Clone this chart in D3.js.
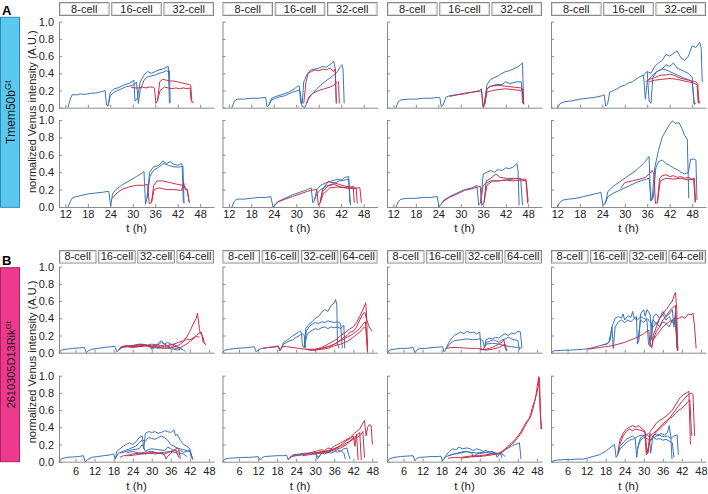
<!DOCTYPE html>
<html><head><meta charset="utf-8">
<script src="https://cdn.jsdelivr.net/npm/d3@7"></script>
<style>body{margin:0;background:#fff}svg{display:block}</style>
</head><body><svg id="c" width="708" height="494"></svg>
<script>
// ---------- labels / ticks ----------
const stagesA = ["8-cell","16-cell","32-cell"];
const stagesB = ["8-cell","16-cell","32-cell","64-cell"];
const xTicksA = [12,18,24,30,36,42,48];
const xTicksB = [6,12,18,24,30,36,42,48];
const yTicks = [0,0.2,0.4,0.6,0.8,1.0];
const yTickLabels = ["0.0","0.2","0.4","0.6","0.8","1.0"];
const geneA = "Tmem50b", geneB = "2610305D13Rik", geneSup = "Gt";
const yLabel = "normalized Venus intensity (A.U.)";
const xLabel = "t (h)";

// ---------- traces: [t (h), normalized intensity] ----------
const A_r1c1_blue = [
 [[12.7,0],[13.3,0.1],[13.8,0.15],[15,0.15],[16,0.16],[17,0.155],[18,0.16],[19,0.17],[20,0.17],[21,0.18],[22,0.19],[22.6,0.2],[23,0.03],[23.4,0.02],[24,0.18],[25,0.22],[26,0.23],[27,0.25],[28,0.27],[29,0.28],[30.3,0.32],[30.6,0.08],[31.2,0.1],[32,0.3],[33,0.38],[34,0.42],[35,0.4],[36,0.42],[37,0.44],[38,0.45],[39,0.47],[39.5,0.48],[39.8,0.05]],
 [[23.4,0.02],[24,0.14],[25,0.18],[26,0.2],[27,0.22],[28,0.24],[29,0.25],[30.5,0.27],[31,0.3],[31.5,0.05],[32,0.2],[33,0.32],[34,0.36],[35,0.37],[36,0.38],[37,0.4],[38,0.41],[39,0.43],[39.5,0.42],[39.8,0.43],[40,0.06]]
];
const A_r1c1_red = [
 [[29.5,0.24],[30.5,0.23],[31.5,0.23],[32.5,0.24],[33.5,0.23],[34.5,0.24],[35.5,0.24],[35.8,0.22],[36.2,0.05],[36.6,0.08],[37.2,0.3],[38,0.33],[39,0.32],[40,0.31],[41,0.31],[42,0.3],[43,0.29],[44,0.28],[45,0.27],[45.5,0.26],[45.8,0.06],[46.3,0.07]],
 [[36.6,0.08],[37.3,0.2],[38.5,0.24],[39.5,0.23],[40.5,0.22],[41.5,0.23],[42.5,0.22],[43.5,0.23],[44.5,0.22],[45.3,0.23],[45.6,0.08]]
];
const A_r1c2_blue = [
 [[12.8,0],[13.5,0.08],[14.2,0.1],[16,0.1],[18,0.11],[20,0.11],[21.8,0.12],[22.2,0.01],[22.7,0.03],[23.4,0.11],[24.5,0.13],[26,0.15],[28,0.18],[29.5,0.22],[30.4,0.25],[30.8,0.25],[31.2,0.05],[31.6,0.05],[32,0.3],[33,0.4],[34,0.44],[35,0.45],[36,0.46],[37,0.48],[38,0.47],[39,0.5],[40,0.54],[40.4,0.46],[40.7,0.05]],
 [[22.7,0.03],[23.4,0.09],[25,0.12],[27,0.14],[29,0.18],[30.5,0.2],[31,0.2],[31.5,0.02],[32.3,0],[33,0.08],[34,0.15],[35.5,0.22],[37,0.28],[38.5,0.33],[40,0.38],[41,0.42],[41.8,0.48],[42.2,0.5],[42.5,0.45],[42.8,0.05]]
];
const A_r1c2_red = [
 [[32,0.05],[32.6,0.3],[33.2,0.4],[34,0.42],[35,0.44],[36,0.43],[37,0.45],[38,0.44],[39,0.46],[40,0.42],[40.4,0.45],[40.7,0.05]],
 [[32.8,0.05],[33.3,0.12],[34.5,0.17],[36,0.2],[37.5,0.22],[39,0.24],[40,0.26],[41,0.3],[41.3,0.3],[41.5,0.05]]
];
const A_r1c3_blue = [
 [[12.7,0],[13.3,0.07],[14,0.09],[16,0.1],[18,0.1],[20,0.11],[22,0.11],[24,0.12],[24.4,0.12],[24.8,0.01],[25.3,0.03],[26,0.12],[27,0.14],[29,0.15],[31,0.17],[33,0.18],[35,0.2],[35.5,0.22],[35.9,0.02],[36.3,0.05],[37,0.27],[38,0.33],[39,0.35],[40,0.37],[41,0.4],[42,0.42],[43,0.43],[44,0.45],[45,0.47],[46,0.5],[46.5,0.52],[46.8,0.05]],
 [[36.3,0.05],[37,0.22],[38,0.25],[39.5,0.27],[41,0.27],[42,0.3],[43,0.28],[44,0.29],[45,0.3],[46.2,0.3],[46.5,0.05]]
];
const A_r1c3_red = [
 [[27,0.13],[29,0.15],[31,0.16],[33,0.18],[35,0.19],[35.6,0.2],[36,0],[36.4,0.04],[37,0.22],[38,0.25],[40,0.26],[42,0.25],[44,0.24],[46,0.23],[46.5,0.22],[46.8,0.04]],
 [[36.4,0.04],[37,0.18],[38.5,0.2],[40,0.21],[42,0.22],[44,0.21],[46,0.2],[46.4,0.22],[46.8,0.04]]
];
const A_r1c4_blue = [
 [[12,0],[12.8,0.05],[14,0.07],[16,0.08],[18,0.1],[20,0.11],[22,0.12],[24,0.14],[24.5,0.15],[24.9,0.02],[25.4,0.04],[26,0.18],[27,0.2],[28,0.22],[29,0.25],[30,0.26],[31,0.29],[32,0.3],[33,0.33],[34,0.36],[35,0.38],[36,0.42],[37,0.4],[38,0.48],[39,0.52],[40,0.55],[41,0.62],[42,0.6],[43,0.63],[44,0.66],[45,0.58],[46,0.55],[47,0.6],[48,0.72],[49,0.7],[50,0.76],[50.4,0.7],[50.7,0.3]],
 [[36,0.42],[36.5,0.08],[37,0.05],[37.5,0.35],[38.5,0.42],[40,0.45],[41,0.5],[42,0.48],[43,0.52],[44,0.46],[45,0.44],[46,0.42],[47,0.4],[48,0.35],[48.5,0.04],[49,0.05]],
 [[35,0.38],[35.5,0.1],[36,0.3],[37,0.36],[38,0.4],[39,0.43],[40,0.45],[41,0.44],[42,0.42],[43,0.4],[44,0.38],[45,0.36],[46,0.34],[47,0.33],[48,0.3],[48.6,0.04]]
];
const A_r1c4_red = [
 [[35.5,0.3],[36.5,0.33],[38,0.35],[39,0.37],[40,0.38],[41,0.38],[42,0.39],[43,0.38],[44,0.36],[45,0.34],[46,0.33],[47,0.32],[48,0.31],[49,0.3],[49.5,0.28],[49.8,0.05],[50,0.08]],
 [[36.5,0.3],[38,0.32],[40,0.33],[42,0.34],[44,0.33],[46,0.31],[48,0.29],[49.3,0.27],[49.6,0.06]]
];
const A_r2c1_blue = [
 [[12.7,0],[13.3,0.06],[14,0.11],[16,0.13],[18,0.15],[20,0.16],[22,0.17],[23.6,0.18],[24.1,0.01],[24.6,0.15],[25.5,0.2],[27,0.25],[29,0.3],[31,0.35],[32.5,0.39],[33,0.41],[33.4,0.03],[33.8,0.1],[34.5,0.4],[35.5,0.46],[37,0.48],[38,0.53],[39,0.5],[40,0.52],[41,0.49],[42,0.48],[43,0.5],[43.2,0.48],[43.5,0.05]],
 [[33.8,0.1],[34.6,0.35],[35.5,0.42],[37,0.46],[38.2,0.5],[39.5,0.48],[41,0.46],[42.5,0.46],[43.4,0.47],[43.7,0.04]]
];
const A_r2c1_red = [
 [[24.6,0.1],[25.5,0.15],[27,0.2],[29,0.23],[31,0.25],[33,0.25],[34,0.26],[34.4,0.04],[35,0.05],[35.6,0.25],[36.5,0.3],[38,0.3],[40,0.28],[42,0.26],[43.5,0.25],[44.5,0.2],[45,0.08],[45.2,0.05]],
 [[35,0.05],[35.7,0.2],[37,0.22],[39,0.2],[41,0.2],[43,0.19],[43.6,0.28],[44,0.2],[44.6,0.2],[45,0.06]]
];
const A_r2c2_blue = [
 [[12.8,0],[13.4,0.06],[14,0.09],[16,0.09],[18,0.1],[20,0.11],[22,0.11],[23.2,0.12],[23.8,0],[24.3,0.02],[25,0.06],[27,0.1],[29,0.14],[31,0.17],[33,0.2],[34,0.22],[34.4,0.05],[34.8,0.07],[35.5,0.2],[36.5,0.25],[38,0.28],[39.5,0.3],[41,0.32],[42,0.31],[43,0.34],[44,0.35],[44.3,0.05]],
 [[34.8,0.07],[35.5,0.15],[36.5,0.2],[38,0.24],[40,0.27],[41.5,0.3],[43,0.31],[44,0.32],[44.5,0.02]]
];
const A_r2c2_red = [
 [[24.3,0.02],[25.2,0.06],[27,0.09],[29,0.12],[31,0.15],[33,0.18],[35,0.2],[35.5,0.2],[35.9,0.02],[36.4,0.05],[37,0.2],[38.5,0.29],[40,0.28],[41.5,0.26],[43,0.24],[44.5,0.23],[45.2,0.24],[45.5,0.05]],
 [[36.4,0.05],[37,0.18],[38.5,0.24],[40,0.26],[42,0.23],[44,0.22],[45.5,0.22],[46,0.22],[46.3,0.04]],
 [[36.4,0.05],[37.2,0.15],[39,0.22],[41,0.23],[43,0.22],[45,0.21],[46.5,0.22],[47,0.22],[47.4,0.05]]
];
const A_r2c3_blue = [
 [[12.7,0],[13.3,0.06],[14,0.09],[16,0.1],[18,0.1],[20,0.11],[22,0.11],[23.7,0.12],[24.2,0],[24.7,0.03],[25.5,0.08],[27,0.12],[29,0.16],[31,0.2],[33,0.22],[34.3,0.25],[34.8,0.02],[35.3,0.05],[36,0.38],[37,0.4],[38,0.42],[39,0.4],[40,0.43],[41,0.42],[42,0.45],[43,0.44],[44,0.46],[45,0.5],[45.3,0.42],[45.6,0.02]],
 [[35.3,0.05],[36,0.25],[37,0.28],[38,0.3],[40,0.3],[42,0.31],[44,0.32],[45,0.33],[46,0.33],[46.5,0.02]]
];
const A_r2c3_red = [
 [[24.7,0.03],[25.5,0.07],[27,0.11],[29,0.15],[31,0.19],[33,0.21],[34.5,0.23],[35.2,0.24],[35.6,0.02],[36.2,0.05],[36.8,0.3],[38,0.33],[39.4,0.38],[40.5,0.34],[42,0.33],[44,0.33],[46,0.32],[47.4,0.32],[47.9,0.04]],
 [[36.2,0.05],[37,0.25],[38.5,0.3],[40,0.3],[42,0.31],[44,0.3],[46,0.31],[47.5,0.3],[48,0.06]]
];
const A_r2c4_blue = [
 [[12,0],[12.6,0.05],[13.5,0.08],[15,0.09],[17,0.1],[19,0.12],[21,0.14],[23,0.16],[23.6,0.17],[24.2,0.02],[24.8,0.04],[25.5,0.18],[27,0.24],[29,0.3],[31,0.36],[33,0.42],[34,0.46],[35,0.5],[36,0.55],[36.5,0.58],[36.9,0.07],[37.3,0.08],[38,0.45],[39,0.65],[40,0.8],[41,0.88],[42,0.95],[42.7,0.99],[43.5,0.96],[44.5,0.97],[45.3,0.9],[46,0.82],[46.7,0.78],[47.1,0.1]],
 [[24.8,0.04],[25.5,0.12],[27,0.16],[29,0.2],[31,0.24],[33,0.28],[35,0.31],[36.5,0.33],[37.1,0.08],[37.6,0.1],[38.3,0.45],[39,0.52],[40,0.54],[41,0.5],[42,0.48],[43,0.45],[44,0.43],[45,0.4],[46,0.38],[47,0.4],[47.6,0.55],[48.5,0.55],[49,0.54],[49.3,0.08]]
];
const A_r2c4_red = [
 [[29,0.22],[30,0.28],[32,0.3],[34,0.32],[35.5,0.34],[36.5,0.38],[37.3,0.42],[37.8,0.38],[38.2,0.04],[38.7,0.05],[39.3,0.33],[40,0.36],[41,0.37],[42,0.35],[43,0.36],[44,0.34],[45,0.35],[46,0.33],[47,0.34],[48,0.32],[48.6,0.33],[48.9,0.06]],
 [[38.7,0.05],[39.5,0.3],[41,0.33],[43,0.32],[45,0.33],[47,0.31],[48.4,0.32],[48.8,0.05]]
];
const B_r1c1_blue = [
 [[0.8,0],[1.5,0.03],[3,0.04],[5,0.05],[7,0.055],[8.8,0.06],[9.4,0],[10,0.02],[11,0.04],[13,0.05],[15,0.06],[17,0.07],[18.4,0.075],[19,0.01],[19.6,0.03],[20.5,0.07],[22,0.08],[24,0.07],[26,0.09],[28,0.08],[30,0.1],[32,0.09],[33,0.12],[34,0.1],[35,0.08],[36,0.09],[37,0.1],[38,0.07],[39,0.05],[40,0.03],[40.6,0.01]],
 [[19.6,0.03],[20.5,0.06],[22,0.07],[24,0.08],[26,0.07],[28,0.08],[29.5,0.09],[30,0.04],[31,0.06],[32,0.11],[33,0.14],[34,0.1],[35,0.12],[36,0.1],[37,0.08],[38.5,0.06],[39.5,0.04]],
 [[19.6,0.03],[21,0.07],[23,0.08],[25,0.09],[27,0.1],[29,0.08],[30.5,0.07],[32,0.05],[33,0.06],[35,0.05],[37,0.04],[38,0.03],[39,0.04]]
];
const B_r1c1_red = [
 [[19.6,0.03],[20.5,0.07],[22,0.08],[24,0.07],[26,0.08],[28,0.09],[30,0.08],[32,0.09],[34,0.07],[35.5,0.09],[37,0.1],[38.5,0.12],[40,0.14],[41,0.18],[42,0.25],[43,0.33],[44,0.4],[44.4,0.46],[45,0.28],[45.3,0.22],[46,0.2],[46.5,0.12],[47,0.09]],
 [[20,0.06],[22,0.07],[24,0.08],[26,0.1],[28,0.09],[30,0.07],[32,0.06],[34,0.05],[35,0.06],[37,0.07],[38,0.08],[39,0.1],[40,0.13],[41,0.16],[42,0.15],[43,0.17],[44,0.2],[45,0.23],[45.6,0.24],[46.2,0.12],[46.8,0.1]],
 [[22,0.07],[24,0.06],[26,0.07],[28,0.08],[30,0.06],[32,0.07],[34,0.09],[36,0.06],[38,0.05],[39,0.06],[40,0.08],[41,0.1],[42,0.13],[43,0.16],[44,0.19],[45,0.18]]
];
const B_r1c2_blue = [
 [[0.8,0],[1.5,0.03],[3,0.04],[5,0.05],[7,0.055],[9,0.06],[10.8,0.07],[11.4,0.01],[12,0.03],[13,0.05],[15,0.06],[17,0.07],[18.3,0.08],[18.8,0.02],[19.4,0.05],[20,0.12],[21,0.14],[22,0.17],[23,0.2],[24,0.22],[25,0.25],[25.6,0.24],[26,0.08],[26.5,0.06],[27,0.28],[28,0.33],[29,0.36],[30,0.4],[31,0.42],[32,0.47],[33,0.5],[34,0.48],[35,0.55],[36,0.58],[36.4,0.62],[36.8,0.55],[37,0.1],[37.5,0.05]],
 [[26.5,0.06],[27.2,0.25],[28,0.3],[29,0.33],[30,0.35],[31,0.34],[32,0.36],[33,0.35],[34,0.37],[35,0.36],[36,0.35],[37,0.36],[38,0.34],[38.5,0.05]],
 [[26.5,0.06],[27.5,0.22],[29,0.26],[30,0.28],[31,0.27],[32,0.29],[33,0.3],[34,0.28],[35,0.3],[36,0.29],[37,0.3],[38,0.28],[39,0.32],[39.3,0.05]],
 [[19.4,0.05],[20,0.1],[21,0.12],[22,0.14],[23,0.15],[24,0.18],[25,0.2],[26,0.22],[26.5,0.2],[27,0.05]]
];
const B_r1c2_red = [
 [[13.5,0.05],[15,0.06],[17,0.065],[18.5,0.07],[19,0.03],[19.5,0.07],[21,0.07],[23,0.06],[25,0.05],[27,0.04],[29,0.04],[30,0.04],[31,0.05],[32,0.06],[33,0.08],[34,0.1],[35,0.12],[36,0.14],[37,0.16],[38,0.2],[39,0.22],[40,0.25],[41,0.28],[42,0.3],[43,0.35],[44,0.42],[45,0.5],[45.9,0.58],[46.2,0.4],[46.5,0]],
 [[27,0.04],[29,0.03],[31,0.04],[33,0.06],[35,0.08],[37,0.12],[39,0.18],[40,0.2],[41,0.24],[42,0.25],[43,0.3],[44,0.38],[45,0.45],[45.6,0.47],[46.2,0.38],[47,0.3],[47.8,0.25]],
 [[30,0.04],[32,0.05],[34,0.07],[36,0.1],[38,0.14],[40,0.18],[42,0.22],[44,0.28],[45,0.33],[45.8,0.36],[46.3,0.1]],
 [[28,0.03],[30,0.03],[32,0.04],[34,0.05],[36,0.08],[38,0.1],[40,0.13],[42,0.18],[44,0.24],[45.5,0.3],[46,0.28],[46.4,0.02]]
];
const B_r1c3_blue = [
 [[1,0],[1.6,0.03],[3,0.04],[5,0.05],[7,0.05],[9,0.06],[9.6,0],[10.2,0.03],[11,0.05],[13,0.05],[15,0.06],[17,0.065],[18.3,0.07],[18.8,0.01],[19.3,0.04],[20,0.1],[21,0.16],[22,0.2],[23,0.22],[24,0.24],[25,0.22],[26,0.25],[27,0.23],[28,0.24],[29,0.22],[30,0.24],[30.4,0.05],[31,0.03]],
 [[19.3,0.04],[20.5,0.1],[22,0.14],[24,0.15],[26,0.16],[28,0.15],[30,0.16],[31,0.14],[31.5,0.06],[32,0.15],[33,0.17],[34,0.16],[35,0.18],[36,0.17],[37,0.2],[38,0.22],[39,0.2],[40,0.23],[41,0.22],[42,0.25],[42.8,0.24],[43.3,0.05]],
 [[31.5,0.06],[32,0.12],[33,0.13],[34,0.15],[35,0.14],[36,0.12],[37,0.15],[38,0.16],[39,0.18],[40,0.16],[41,0.15],[42,0.14],[42.5,0.03]],
 [[31,0.03],[32,0.1],[34,0.11],[36,0.1],[38,0.08],[40,0.07],[42,0.06],[43,0.05]]
];
const B_r1c3_red = [
 [[19.3,0.05],[21,0.06],[23,0.06],[25,0.055],[27,0.05],[29,0.05],[31,0.04],[32,0.04],[33,0.05],[34,0.06],[35,0.08],[36,0.1],[37,0.12],[37.6,0.15],[38,0.06],[38.5,0.02]],
 [[30,0.04],[32,0.03],[34,0.04],[36,0.06],[37,0.08],[38,0.1],[38.5,0.02]]
];
const B_r1c4_blue = [
 [[0.9,0],[1.5,0.02],[3,0.025],[5,0.03],[7,0.03],[9,0.035],[11,0.04],[12,0.045],[13,0.05],[15,0.07],[17,0.09],[18.5,0.1],[19.5,0.15],[20,0.3],[20.5,0.35],[21,0.4],[22,0.42],[23,0.4],[23.5,0.45],[24,0.38],[25,0.43],[26,0.41],[26.5,0.48],[27,0.4],[27.7,0.42],[28,0.1],[28.5,0.15],[29,0.45],[30,0.5],[30.5,0.42],[31,0.5],[32,0.45],[32.5,0.15],[33,0.42],[34,0.45],[35,0.4],[36,0.48],[37,0.42],[38,0.45],[39,0.5],[39.5,0.3],[40,0.48],[40.5,0.05]],
 [[17,0.09],[18,0.1],[19,0.12],[20,0.3],[20.4,0.05],[21,0.3],[22,0.36],[23,0.38],[24,0.35],[25,0.38],[26,0.36],[27,0.4],[28,0.38],[29,0.42],[30,0.4],[31,0.38],[31.5,0.1],[32,0.08],[32.5,0.35],[33,0.38],[34,0.33],[35,0.4],[36,0.45],[37,0.38],[38,0.42],[39,0.35],[40,0.4],[40.8,0.03]],
 [[28,0.1],[29,0.38],[30,0.35],[31,0.4],[32,0.36],[33,0.3],[34,0.35],[35,0.3],[36,0.36],[37,0.34],[38,0.3],[39,0.38],[40,0.32],[40.6,0.02]]
];
const B_r1c4_red = [
 [[12.3,0.04],[14,0.05],[16,0.06],[18,0.07],[20,0.08],[22,0.1],[24,0.12],[26,0.15],[28,0.18],[30,0.22],[31,0.25],[31.6,0.26],[32,0.08],[32.5,0.06],[33,0.2],[34,0.3],[35,0.4],[36,0.45],[37,0.5],[38,0.55],[39,0.6],[39.5,0.66],[40,0.7],[40.4,0.5],[40.7,0.02]],
 [[32.5,0.06],[33,0.15],[34,0.2],[35,0.25],[36,0.3],[37,0.33],[38,0.36],[39,0.38],[40,0.4],[41,0.4],[42,0.42],[43,0.4],[44,0.45],[45,0.44],[45.5,0.46],[46,0.3],[46.5,0.05]],
 [[33,0.15],[34,0.25],[35,0.3],[36,0.38],[37,0.42],[38,0.48],[39,0.52],[40,0.55],[40.5,0.05]]
];
const B_r2c1_blue = [
 [[0.8,0],[1.5,0.03],[3,0.05],[5,0.055],[7,0.06],[8.5,0.07],[9,0],[9.7,0.02],[11,0.05],[13,0.06],[15,0.07],[17,0.08],[18,0.09],[18.5,0.03],[19,0.12],[20,0.15],[21,0.18],[22,0.2],[23,0.22],[24,0.2],[25,0.23],[26,0.28],[27,0.3],[27.5,0.15],[28,0.33],[29,0.35],[30,0.34],[31,0.35],[32,0.33],[33,0.34],[34,0.36],[35,0.35],[36,0.34],[37,0.37],[37.5,0.3],[38,0.32],[39,0.25],[40,0.2],[41,0.18],[42,0.15],[42.8,0.03]],
 [[18.5,0.03],[19.5,0.1],[21,0.12],[23,0.15],[25,0.18],[26,0.22],[27,0.25],[28,0.24],[29,0.28],[30,0.27],[31,0.26],[32,0.28],[33,0.3],[34,0.28],[35,0.25],[36,0.2],[37,0.18],[38,0.16],[39,0.15],[40,0.14],[41,0.13],[42,0.12],[42.5,0.04]],
 [[20,0.1],[22,0.12],[24,0.14],[26,0.15],[27,0.2],[28,0.12],[29,0.14],[30,0.15],[32,0.14],[34,0.13],[35,0.17],[36,0.15],[37,0.13],[38,0.12],[39,0.13],[40,0.11],[41,0.12],[42,0.13],[43,0.02]],
 [[22,0.1],[24,0.12],[26,0.1],[28,0.11],[30,0.12],[32,0.1],[34,0.11],[36,0.12],[38,0.1],[40,0.09],[41,0.06]]
];
const B_r2c1_red = [
 [[20,0.05],[21,0.07],[23,0.07],[25,0.08],[27,0.09],[29,0.1],[31,0.09],[33,0.1],[34,0.08],[34.5,0.03],[35,0.06],[36,0.1],[37,0.13],[38,0.16],[38.5,0.15],[39,0.03]],
 [[22,0.07],[24,0.09],[26,0.1],[28,0.09],[30,0.11],[32,0.1],[34,0.09],[36,0.12],[37.5,0.14],[38.5,0.05]]
];
const B_r2c2_blue = [
 [[0.8,0],[1.5,0.03],[3,0.04],[5,0.045],[7,0.05],[9,0.05],[11,0.055],[12,0.06],[12.5,0.02],[13,0.04],[14,0.06],[16,0.065],[18,0.07],[20,0.07],[21,0.075],[21.5,0.02],[22,0.05],[23,0.08],[25,0.09],[27,0.1],[29,0.1],[30.2,0.11],[30.6,0.03],[31,0.05],[32,0.1],[33,0.12],[34,0.1],[35,0.13],[36,0.12],[37,0.14],[38,0.12],[39,0.15],[40,0.16],[40.5,0.08],[41,0.03]],
 [[22,0.05],[23,0.07],[25,0.08],[27,0.09],[29,0.085],[30.2,0.09],[31,0.05],[32,0.1],[33,0.09],[34,0.11],[35,0.1],[36,0.12],[37,0.11],[38,0.13],[39,0.1],[39.5,0.03]]
];
const B_r2c2_red = [
 [[21.5,0.03],[22.5,0.06],[24,0.07],[26,0.08],[28,0.1],[30,0.12],[31,0.13],[32,0.14],[33,0.13],[34,0.16],[35,0.15],[36,0.18],[37,0.2],[38,0.22],[39,0.24],[40,0.26],[41,0.28],[42,0.32],[43,0.35],[44,0.38],[45,0.45],[45.5,0.48],[46,0.3],[46.5,0.4],[47,0.43],[47.6,0.42],[48,0.2]],
 [[26,0.07],[28,0.08],[30,0.1],[32,0.11],[34,0.13],[35,0.14],[36,0.15],[37,0.17],[38,0.19],[39,0.22],[40,0.25],[41,0.27],[42,0.3],[42.5,0.18],[43,0.32],[43.5,0.02]],
 [[30,0.1],[32,0.12],[34,0.11],[36,0.14],[38,0.16],[40,0.2],[41,0.24],[42,0.28],[43,0.3],[44,0.34],[44.5,0.02]],
 [[30,0.09],[32,0.1],[34,0.12],[36,0.15],[38,0.18],[40,0.22],[42,0.26],[44,0.3],[45,0.35],[45.5,0.05]]
];
const B_r2c3_blue = [
 [[0.9,0],[1.5,0.03],[3,0.05],[5,0.06],[7,0.065],[9,0.07],[9.6,0.01],[10.2,0.04],[11,0.05],[13,0.055],[15,0.06],[17,0.06],[17.8,0.065],[18.3,0.01],[18.8,0.04],[19.5,0.08],[20.5,0.12],[21.5,0.15],[22.5,0.14],[23.5,0.17],[24.5,0.15],[26,0.16],[27,0.15],[28,0.13],[29,0.15],[30,0.14],[31,0.12],[32,0.13],[33,0.11],[34,0.12],[35,0.1],[35.5,0.05],[36,0.08],[37,0.11],[38,0.14],[39,0.16],[40,0.18],[41,0.2],[42,0.21],[42.5,0.22],[43,0.03]],
 [[18.8,0.04],[19.5,0.06],[21,0.08],[23,0.1],[25,0.12],[27,0.11],[29,0.1],[31,0.11],[33,0.1],[35,0.09],[36.5,0.1],[37,0.04]],
 [[20,0.07],[22,0.09],[24,0.1],[26,0.12],[27.5,0.1],[28,0.05],[29,0.09],[31,0.1],[33,0.12],[35,0.1],[37,0.09],[38,0.06]]
];
const B_r2c3_red = [
 [[20,0.04],[22,0.05],[24,0.05],[26,0.06],[28,0.07],[30,0.07],[32,0.08],[34,0.09],[36,0.1],[37,0.12],[38,0.15],[39,0.18],[40,0.22],[41,0.25],[42,0.3],[43,0.35],[44,0.42],[45,0.48],[45.5,0.5],[46,0.55],[46.5,0.62],[47,0.68],[47.5,0.72],[48,0.85],[48.6,0.99],[49,0.6],[49.3,0.38],[49.5,0.4]],
 [[24,0.04],[26,0.05],[28,0.06],[30,0.06],[32,0.07],[34,0.08],[36,0.09],[37,0.11],[38,0.14],[39,0.17],[40,0.2],[41,0.24],[42,0.28],[43,0.33],[44,0.4],[45,0.46],[46,0.52],[46.5,0.58],[47,0.65],[47.5,0.74],[48,0.8],[48.5,0.9],[48.8,0.97],[49.2,0.5],[49.5,0.38]]
];
const B_r2c4_blue = [
 [[0.9,0],[1.5,0.01],[3,0.02],[5,0.025],[7,0.025],[9,0.03],[11,0.03],[12,0.04],[13,0.05],[14,0.06],[15,0.07],[16,0.08],[17,0.1],[18,0.12],[19,0.15],[20,0.18],[20.8,0.2],[21.3,0.05],[21.8,0.08],[22.5,0.18],[23.5,0.22],[24.5,0.26],[25.5,0.28],[26.5,0.3],[27.3,0.27],[27.8,0.05],[28.3,0.2],[29,0.28],[30,0.3],[31,0.32],[31.8,0.28],[32.2,0.1],[32.8,0.28],[33.5,0.32],[34.5,0.3],[35.5,0.33],[36.5,0.31],[37.5,0.34],[38,0.42],[38.5,0.3],[38.9,0.03]],
 [[21.8,0.08],[22.5,0.15],[23.5,0.18],[24.5,0.22],[25.5,0.25],[26.5,0.26],[27.5,0.28],[28.5,0.3],[29.5,0.31],[30.5,0.3],[31.5,0.33],[32.5,0.3],[33.5,0.28],[34.5,0.32],[35.5,0.3],[36.5,0.29],[37.5,0.3],[38.5,0.27],[39.5,0.3],[40.5,0.31],[40.9,0.08]],
 [[28,0.15],[29,0.25],[30,0.28],[31,0.27],[32,0.24],[33,0.28],[34,0.26],[35,0.27],[36,0.25],[37,0.26],[38,0.24],[39,0.22],[39.5,0.05]]
];
const B_r2c4_red = [
 [[21.8,0.1],[22.5,0.25],[23.5,0.33],[24.5,0.38],[25.5,0.4],[26.5,0.42],[27.5,0.4],[28.5,0.42],[29.5,0.38],[30.3,0.36],[30.8,0.08],[31.3,0.1],[32,0.35],[33,0.4],[34,0.45],[35,0.48],[36,0.5],[37,0.53],[38,0.56],[39,0.6],[40,0.66],[41,0.72],[41.6,0.75],[42.5,0.78],[43.5,0.8],[44.2,0.82],[44.7,0.2]],
 [[22.5,0.2],[23.5,0.3],[24.5,0.35],[25.5,0.38],[26.5,0.36],[27.5,0.38],[28.5,0.37],[29.5,0.36],[30.5,0.34],[31,0.1],[32,0.25],[33,0.3],[34,0.35],[35,0.38],[36,0.42],[37,0.45],[38,0.5],[39,0.55],[40,0.6],[41,0.65],[42,0.7],[43,0.74],[44,0.78],[45,0.8],[45.5,0.78],[46,0.3]],
 [[31.3,0.1],[32,0.3],[33,0.33],[34,0.36],[35,0.4],[36,0.44],[37,0.47],[38,0.5],[39,0.52],[40,0.56],[41,0.6],[42,0.62],[43,0.66],[44,0.7],[44.5,0.72],[45,0.35],[45.2,0.3]]
];

// ---------- subplot table built from the arrays ----------
const subplots = [
 {p:"A",r:0,c:0,blue:A_r1c1_blue,red:A_r1c1_red},{p:"A",r:0,c:1,blue:A_r1c2_blue,red:A_r1c2_red},
 {p:"A",r:0,c:2,blue:A_r1c3_blue,red:A_r1c3_red},{p:"A",r:0,c:3,blue:A_r1c4_blue,red:A_r1c4_red},
 {p:"A",r:1,c:0,blue:A_r2c1_blue,red:A_r2c1_red},{p:"A",r:1,c:1,blue:A_r2c2_blue,red:A_r2c2_red},
 {p:"A",r:1,c:2,blue:A_r2c3_blue,red:A_r2c3_red},{p:"A",r:1,c:3,blue:A_r2c4_blue,red:A_r2c4_red},
 {p:"B",r:0,c:0,blue:B_r1c1_blue,red:B_r1c1_red},{p:"B",r:0,c:1,blue:B_r1c2_blue,red:B_r1c2_red},
 {p:"B",r:0,c:2,blue:B_r1c3_blue,red:B_r1c3_red},{p:"B",r:0,c:3,blue:B_r1c4_blue,red:B_r1c4_red},
 {p:"B",r:1,c:0,blue:B_r2c1_blue,red:B_r2c1_red},{p:"B",r:1,c:1,blue:B_r2c2_blue,red:B_r2c2_red},
 {p:"B",r:1,c:2,blue:B_r2c3_blue,red:B_r2c3_red},{p:"B",r:1,c:3,blue:B_r2c4_blue,red:B_r2c4_red}
];

// ---------- layout ----------
const FONT = "'Liberation Sans', Arial, Helvetica, sans-serif";
const colX = [59, 222.5, 387, 551], plotW = 155;
const rowY = {A:[[21.7,107.7],[120,207]], B:[[266.7,352.7],[375.7,461.7]]};
const xDom = {A:[10.3,51.7], B:[0.8,49.6]};
const headerY = {A:[2,15], B:[250,262.5]};
const xTitleY = {A:232, B:489.5};
const BLUE = "#3b74ba", RED = "#c8304a", AXIS = "#8c8c8c";

const svg = d3.select("#c").style("font-family", FONT);

subplots.forEach(sp => {
  const [yTop, yBot] = rowY[sp.p][sp.r];
  const x0 = colX[sp.c];
  const xs = d3.scaleLinear().domain(xDom[sp.p]).range([x0, x0 + plotW]);
  const ys = d3.scaleLinear().domain([0,1]).range([yBot, yTop]);
  const bottom = sp.r === 1, left = sp.c === 0;
  const g = svg.append("g");

  const xa = d3.axisBottom(xs).tickValues(sp.p === "A" ? xTicksA : xTicksB)
    .tickSize(-3).tickSizeOuter(0).tickPadding(sp.p === "A" ? 3.5 : 5.5)
    .tickFormat(bottom ? d => String(d) : () => "");
  const gx = g.append("g").attr("transform", `translate(0,${yBot})`).call(xa);
  const ya = d3.axisLeft(ys).tickValues(yTicks).tickSize(-3).tickSizeOuter(0).tickPadding(5)
    .tickFormat(left ? (d, i) => yTickLabels[i] : () => "");
  const gy = g.append("g").attr("transform", `translate(${x0},0)`).call(ya);
  [gx, gy].forEach(a => {
    a.select(".domain").attr("stroke", AXIS);
    a.selectAll(".tick line").attr("stroke", AXIS);
    a.selectAll(".tick text").attr("fill", "#222").style("font-size", "11px").style("font-family", FONT);
  });

  const line = d3.line().x(d => xs(d[0])).y(d => ys(d[1]));
  sp.blue.forEach(tr => g.append("path").attr("d", line(tr)).attr("fill","none")
    .attr("stroke", BLUE).attr("stroke-width", 1).attr("stroke-linejoin","round"));
  sp.red.forEach(tr => g.append("path").attr("d", line(tr)).attr("fill","none")
    .attr("stroke", RED).attr("stroke-width", 1).attr("stroke-linejoin","round"));

  // stage header boxes
  if (sp.r === 0) {
    const stages = sp.p === "A" ? stagesA : stagesB;
    const [hy0, hy1] = headerY[sp.p];
    const gap = 1.7, bw = (plotW - gap * (stages.length - 1)) / stages.length;
    stages.forEach((s, i) => {
      const bx = x0 + i * (bw + gap);
      svg.append("rect").attr("x", bx + 0.5).attr("y", hy0 + 0.5).attr("width", bw - 1).attr("height", hy1 - hy0)
        .attr("fill", "#fff").attr("stroke", "#8a8a8a").attr("stroke-width", 1);
      svg.append("rect").attr("x", bx + 1.5).attr("y", hy0 + 1.5).attr("width", bw - 3).attr("height", hy1 - hy0 - 2)
        .attr("fill", "none").attr("stroke", "#d8d8d8").attr("stroke-width", 0.8);
      svg.append("text").attr("x", bx + bw / 2).attr("y", hy1 - 2.5).attr("text-anchor", "middle")
        .style("font-size", "11px").attr("fill", "#222").text(s);
    });
  }
  if (bottom) {
    svg.append("text").attr("x", x0 + plotW / 2).attr("y", xTitleY[sp.p])
      .attr("text-anchor", "middle").style("font-size", "11.5px").attr("fill", "#222").text(xLabel);
  }
});

// y-axis titles
[["A", 111.7], ["B", 362]].forEach(([p, cy]) => {
  svg.append("text").attr("transform", `translate(36,${cy}) rotate(-90)`).attr("text-anchor", "middle")
    .style("font-size", "11px").attr("fill", "#222").text(yLabel);
});

// panel letters and genotype boxes
svg.append("text").attr("x", 2).attr("y", 15).style("font-size", "13px").style("font-weight", "bold").text("A");
svg.append("text").attr("x", 2).attr("y", 265).style("font-size", "13px").style("font-weight", "bold").text("B");

const gen = [[geneA, 17.3, 207.3, "#5cc8ef", "#2b8ab8", 12], [geneB, 267.7, 461.7, "#ee3a8e", "#b01e62", 11]];
gen.forEach(([name, y0, y1, fill, stroke, fs]) => {
  svg.append("rect").attr("x", 0.5).attr("y", y0).attr("width", 19).attr("height", y1 - y0)
    .attr("fill", fill).attr("stroke", stroke).attr("stroke-width", 1);
  const t = svg.append("text").attr("transform", `translate(14.5,${(y0 + y1) / 2}) rotate(-90)`)
    .attr("text-anchor", "middle").style("font-size", fs + "px").attr("fill", "#1a1a1a");
  t.append("tspan").text(name);
  t.append("tspan").attr("dy", -4).style("font-size", (fs - 3) + "px").text(geneSup);
});
</script></body></html>
